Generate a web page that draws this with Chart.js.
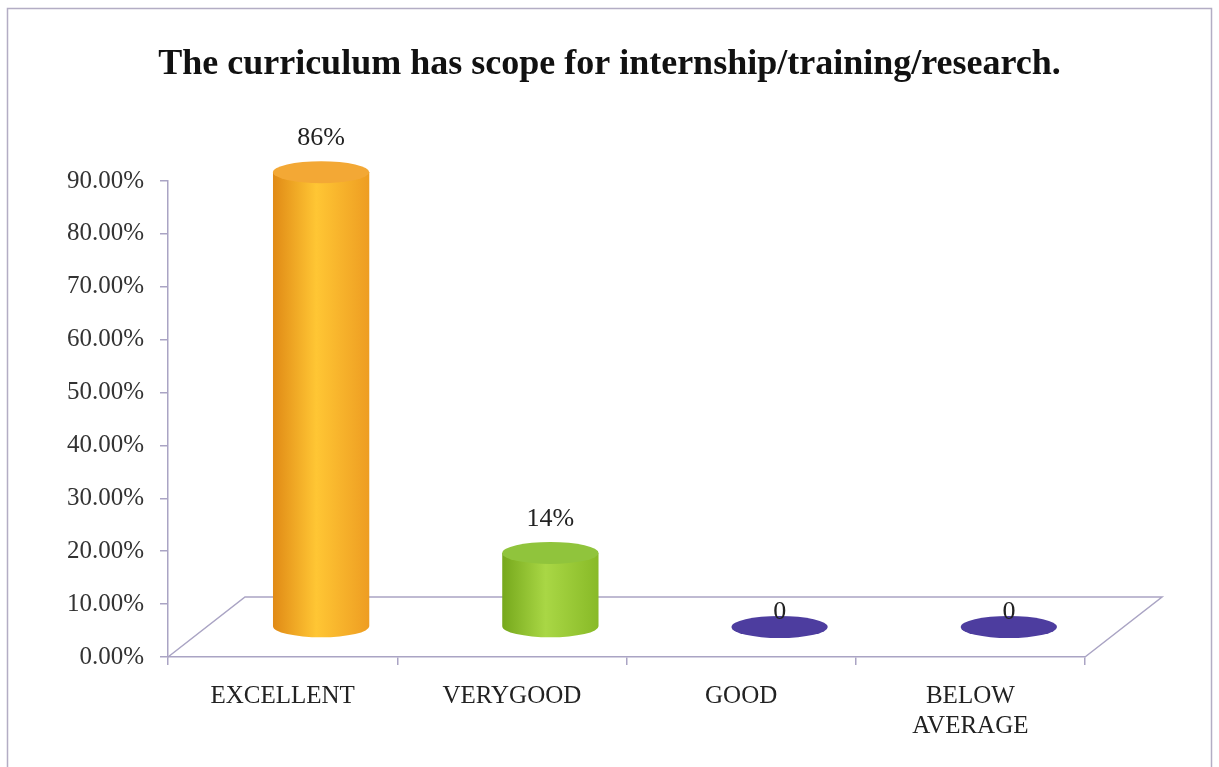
<!DOCTYPE html>
<html>
<head>
<meta charset="utf-8">
<title>The curriculum has scope for internship/training/research.</title>
<script src="https://cdn.jsdelivr.net/npm/chart.js@4.4.1/dist/chart.umd.min.js"></script>
<style>
  html, body { margin: 0; padding: 0; background: #fff; }
  #wrap { width: 1219px; height: 767px; }
</style>
</head>
<body>
<div id="wrap"><canvas id="scopeChart"></canvas></div>
<script>
const chartTitle = 'The curriculum has scope for internship/training/research.';
const categories = ['EXCELLENT', 'VERYGOOD', 'GOOD', ['BELOW', 'AVERAGE']];
const shares = [0.86, 0.14, 0, 0];
const axisMax = 0.9;
const axisStep = 0.1;

// left / centre / right shading for each cylinder, plus the lid colour
const bodyShades = [
    ['#e08a16', '#ffc634', '#ee9d22'],
    ['#76a81c', '#a9d745', '#88ba27'],
    ['#43339a', '#5848aa', '#47379c'],
    ['#43339a', '#5848aa', '#47379c']
];
const lidShades = ['#f3a835', '#90c43c', '#4d3d9f', '#4d3d9f'];

const SERIF = "'Liberation Serif', 'Times New Roman', serif";
const LINE = '#aaa4c4';
const DEPTH_X = 77;
const DEPTH_Y = -60;
const LID_RY = 11;

function labelFor(v) {
    return v > 0 ? Math.round(v * 100) + '%' : '0';
}

const cylinders = {
    id: 'cylinders',
    beforeDraw(chart) {
        const ctx = chart.ctx;
        ctx.save();
        ctx.fillStyle = '#fff';
        ctx.fillRect(0, 0, chart.width, chart.height);
        ctx.strokeStyle = '#b3adc4';
        ctx.lineWidth = 1.5;
        ctx.strokeRect(7.5, 8.5, chart.width - 15, chart.height + 20);
        // title centred on the whole frame
        ctx.fillStyle = '#111';
        ctx.font = 'bold 36px ' + SERIF;
        ctx.textAlign = 'center';
        ctx.textBaseline = 'middle';
        ctx.fillText(chartTitle, chart.width / 2, 65);
        ctx.restore();
    },
    beforeDatasetsDraw(chart) {
        // floor of the 3-D plot
        const { left, right, bottom } = chart.chartArea;
        const ctx = chart.ctx;
        ctx.save();
        ctx.strokeStyle = LINE;
        ctx.lineWidth = 1.5;
        ctx.beginPath();
        ctx.moveTo(left, bottom);
        ctx.lineTo(left + DEPTH_X, bottom + DEPTH_Y);
        ctx.lineTo(right + DEPTH_X, bottom + DEPTH_Y);
        ctx.lineTo(right, bottom);
        ctx.stroke();
        ctx.restore();
    },
    afterDatasetsDraw(chart) {
        const ctx = chart.ctx;
        const meta = chart.getDatasetMeta(0);
        ctx.save();
        meta.data.forEach((bar, i) => {
            const cx = bar.x + DEPTH_X / 2;
            const rx = bar.width / 2;
            const baseY = bar.base + DEPTH_Y / 2;
            const topY = bar.y + DEPTH_Y / 2;
            const shades = bodyShades[i];

            if (baseY - topY > 1) {
                const g = ctx.createLinearGradient(cx - rx, 0, cx + rx, 0);
                g.addColorStop(0, shades[0]);
                g.addColorStop(0.45, shades[1]);
                g.addColorStop(1, shades[2]);
                ctx.fillStyle = g;
                ctx.beginPath();
                ctx.moveTo(cx - rx, topY);
                ctx.lineTo(cx - rx, baseY);
                ctx.ellipse(cx, baseY, rx, LID_RY, 0, Math.PI, 0, true);
                ctx.lineTo(cx + rx, topY);
                ctx.closePath();
                ctx.fill();
            }

            ctx.fillStyle = lidShades[i];
            ctx.beginPath();
            ctx.ellipse(cx, topY, rx, LID_RY, 0, 0, Math.PI * 2);
            ctx.fill();

            // value label above the lid
            const v = shares[i];
            ctx.fillStyle = '#222';
            ctx.font = '26px ' + SERIF;
            ctx.textAlign = 'center';
            ctx.textBaseline = 'bottom';
            ctx.fillText(labelFor(v), cx, topY - (v > 0 ? LID_RY + 10 : 2));
        });
        ctx.restore();
    }
};

new Chart(document.getElementById('scopeChart'), {
    type: 'bar',
    data: {
        labels: categories,
        datasets: [{
            data: shares,
            backgroundColor: 'rgba(0,0,0,0)',
            borderWidth: 0,
            categoryPercentage: 1,
            barPercentage: 0.42
        }]
    },
    options: {
        responsive: true,
        maintainAspectRatio: false,
        animation: false,
        layout: { padding: { top: 181, right: 134, bottom: 0, left: 0 } },
        plugins: {
            legend: { display: false },
            tooltip: { enabled: false },
            title: { display: false }
        },
        scales: {
            x: {
                grid: { offset: true, drawOnChartArea: false, drawTicks: true, tickLength: 8, color: LINE, lineWidth: 1.5 },
                border: { color: LINE, width: 1.5 },
                ticks: { color: '#222', font: { family: SERIF, size: 25 }, padding: 16, maxRotation: 0 },
                afterFit(scale) { scale.height = 110; }
            },
            y: {
                min: 0,
                max: axisMax,
                grid: { drawOnChartArea: false, drawTicks: true, tickLength: 8, color: LINE, lineWidth: 1.5 },
                border: { color: LINE, width: 1.5 },
                ticks: {
                    stepSize: axisStep,
                    color: '#333',
                    font: { family: SERIF, size: 25 },
                    padding: 16,
                    callback: v => (v * 100).toFixed(2) + '%'
                },
                afterFit(scale) { scale.width = 168; }
            }
        }
    },
    plugins: [cylinders]
});
</script>
</body>
</html>
